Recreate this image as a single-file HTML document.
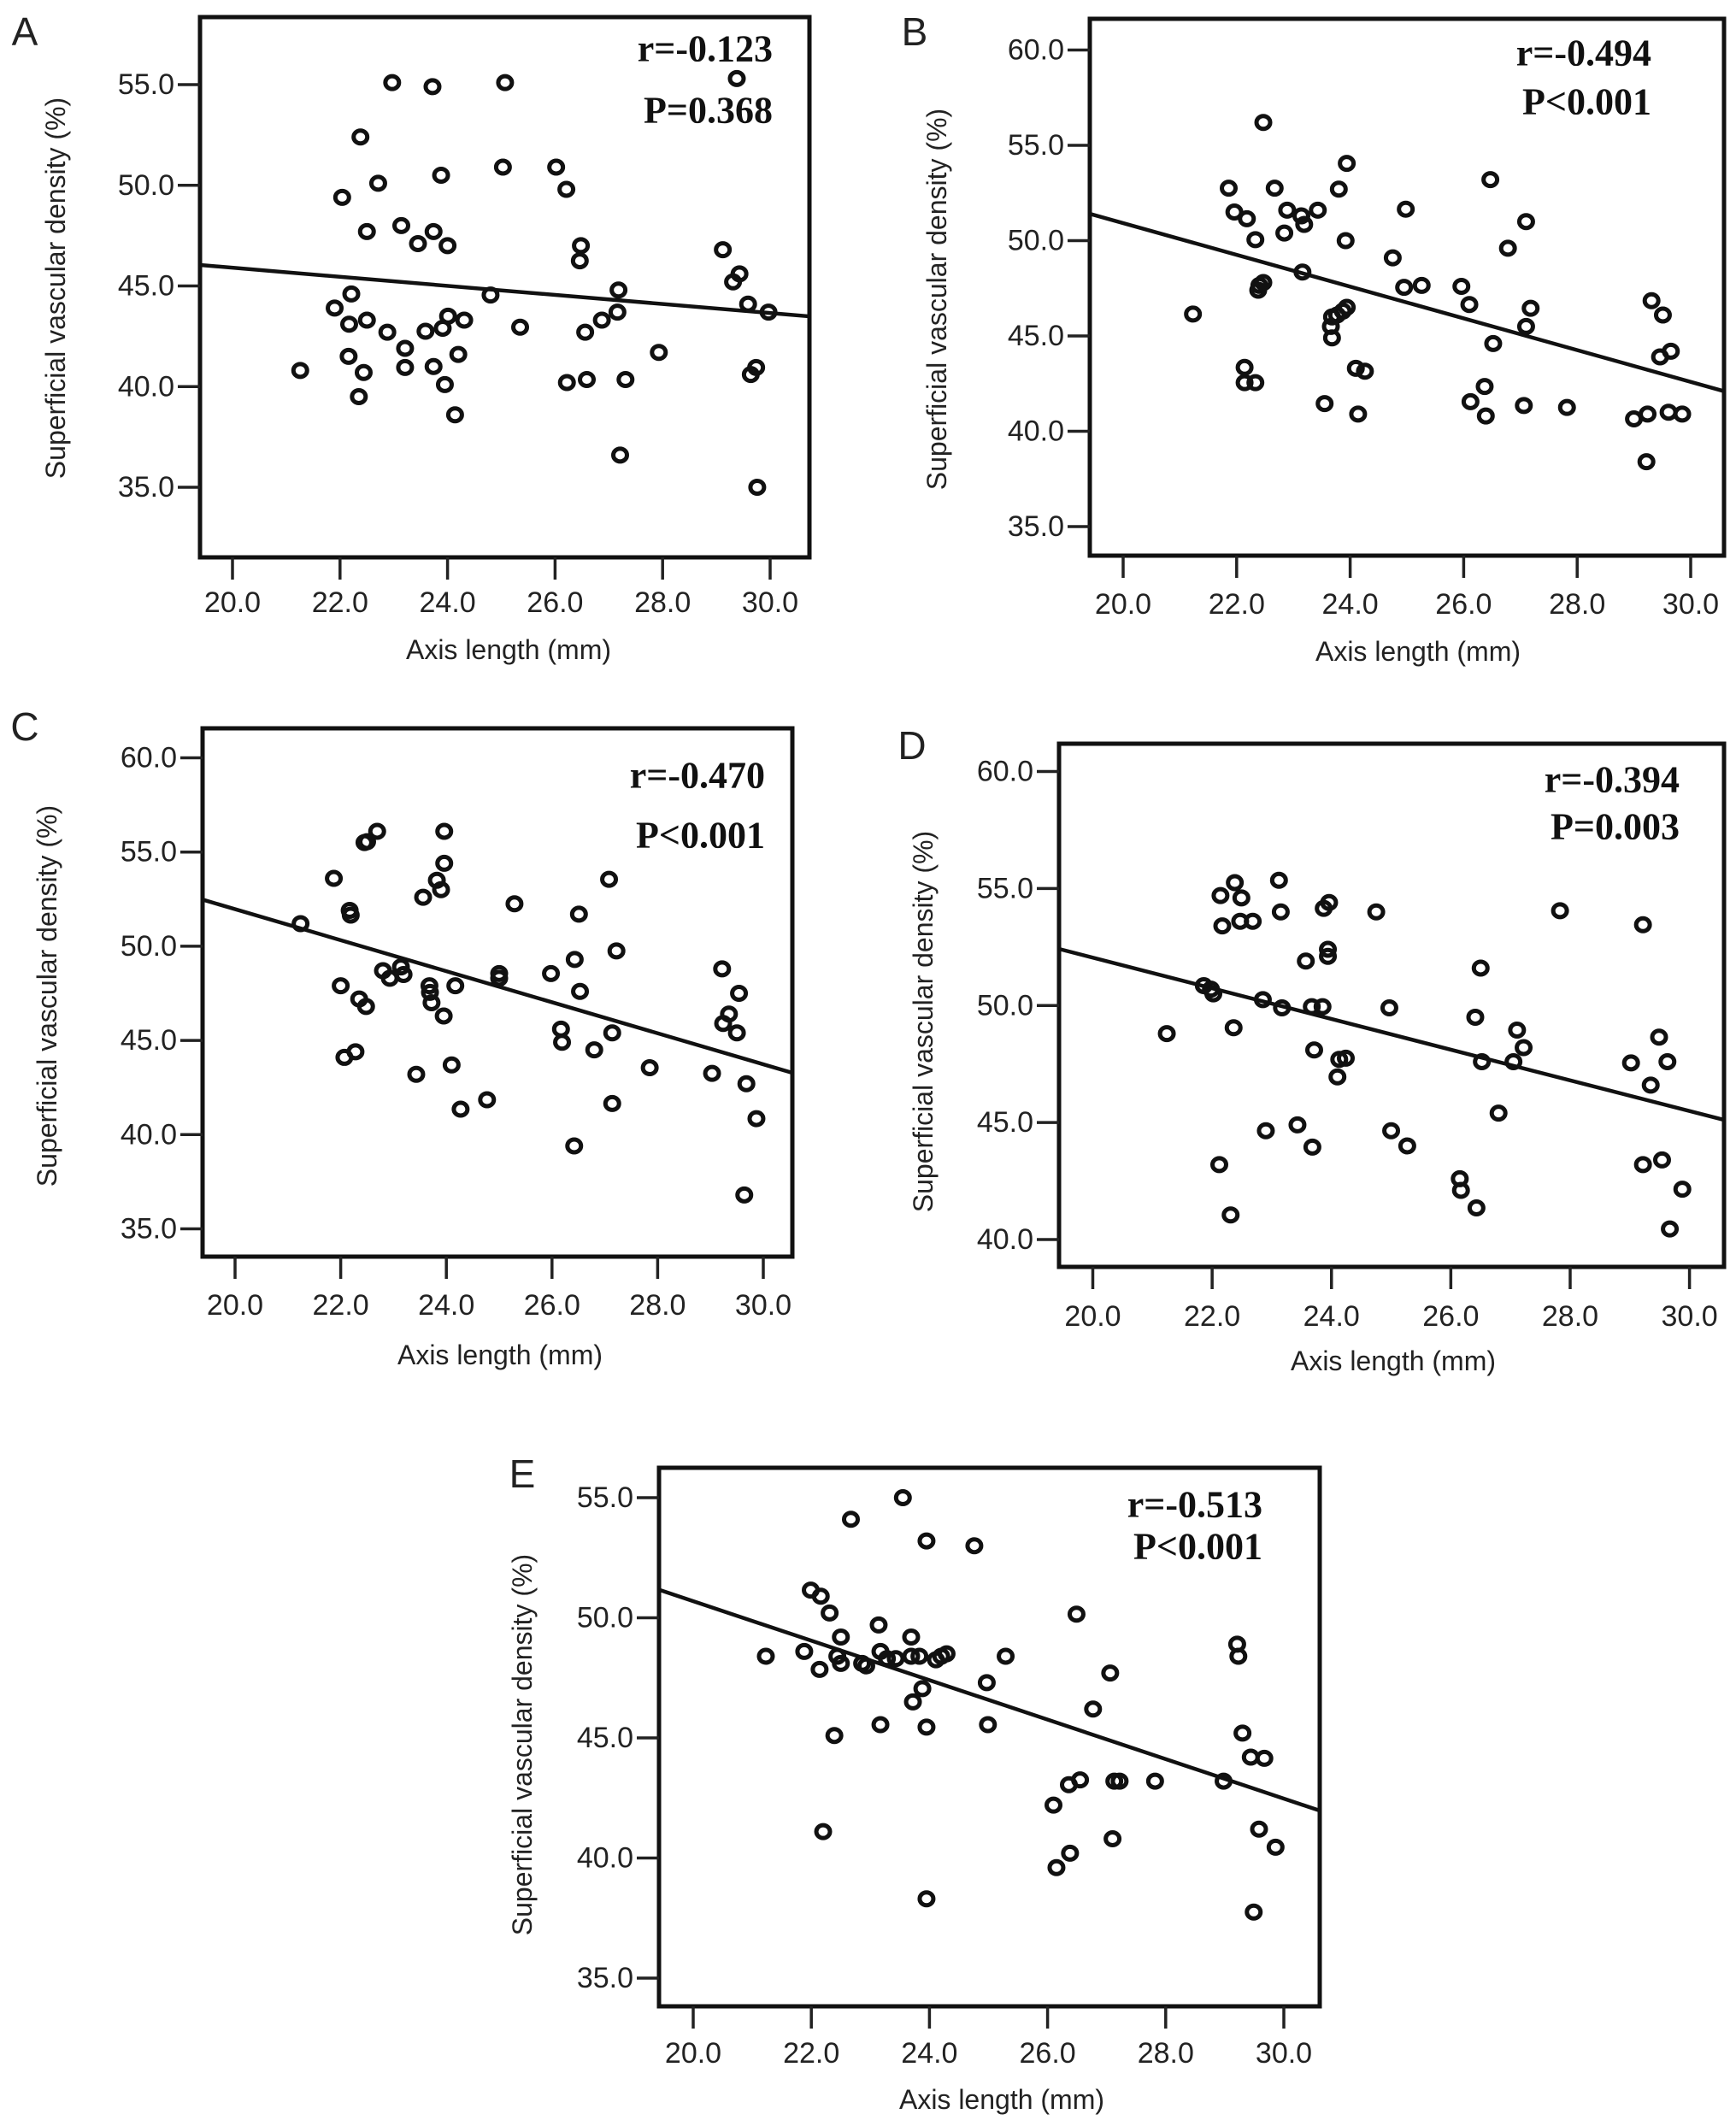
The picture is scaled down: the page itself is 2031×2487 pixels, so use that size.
<!DOCTYPE html>
<html><head><meta charset="utf-8">
<style>
html,body{margin:0;padding:0;background:#fff;}
svg{display:block;}
text{font-family:"Liberation Sans",sans-serif;fill:#222;}
.stat{font-family:"Liberation Serif",serif;font-weight:bold;fill:#111;}
</style></head>
<body>
<svg id="fig" width="2031" height="2487" viewBox="0 0 2031 2487" xmlns="http://www.w3.org/2000/svg"></svg>
<script>
// ---- data ----
const xTickLabels = ["20.0","22.0","24.0","26.0","28.0","30.0"];
const xTickValues = [20,22,24,26,28,30];
const yTicksA = [35,40,45,50,55];
const yTicksB = [35,40,45,50,55,60];
const yTicksC = [35,40,45,50,55,60];
const yTicksD = [40,45,50,55,60];
const yTicksE = [35,40,45,50,55];

const aX = [21.26,22.97,23.72,25.07,29.38,22.38,25.03,26.02,26.21,22.04,22.71,23.88,22.5,23.14,23.45,23.74,24.0,26.48,26.46,29.12,29.31,29.43,29.59,29.97,22.21,21.9,22.17,22.5,22.88,23.59,23.91,24.01,24.31,23.21,23.21,22.16,22.44,23.74,23.95,24.2,22.35,24.14,24.8,25.35,26.22,26.59,26.56,26.87,27.18,27.16,27.31,27.21,27.93,29.64,29.74,29.76];
const aY = [40.8,55.1,54.9,55.1,55.3,52.4,50.9,50.9,49.8,49.4,50.1,50.5,47.7,48.0,47.1,47.7,47.0,47.0,46.25,46.8,45.2,45.6,44.1,43.7,44.6,43.9,43.1,43.3,42.7,42.75,42.9,43.5,43.3,41.9,40.95,41.5,40.7,41.0,40.1,41.6,39.5,38.6,44.55,42.95,40.2,40.35,42.7,43.3,44.8,43.7,40.35,36.6,41.7,40.6,40.95,35.0];
const aLine = [19.4,46.04,30.73,43.49];

const bX = [21.23,22.47,21.86,21.96,22.18,22.33,22.67,22.89,22.84,23.14,23.19,23.43,23.8,23.94,23.92,23.16,22.4,22.47,22.38,23.68,23.77,23.87,23.94,23.66,23.68,24.75,24.98,24.95,25.26,25.96,26.1,26.47,26.52,26.78,27.1,27.18,27.1,22.14,22.14,22.33,23.55,24.1,24.26,24.14,26.12,26.37,26.39,27.06,27.82,29.0,29.24,29.22,29.31,29.51,29.46,29.65,29.61,29.85];
const bY = [46.15,56.2,52.75,51.5,51.15,50.05,52.75,51.6,50.4,51.3,50.85,51.6,52.7,54.05,50.0,48.35,47.65,47.8,47.4,46.0,46.1,46.3,46.5,45.5,44.9,49.1,51.65,47.55,47.65,47.6,46.65,53.2,44.6,49.6,51.0,46.45,45.5,43.35,42.55,42.55,41.45,43.3,43.15,40.9,41.55,42.35,40.8,41.35,41.25,40.65,40.9,38.4,46.85,46.1,43.9,44.2,41.0,40.9];
const bLine = [19.41,51.41,30.59,42.1];

const cX = [21.24,21.87,22.17,22.19,22.45,22.5,22.69,22.0,22.35,22.48,22.07,22.28,22.8,22.93,23.14,23.19,23.56,23.82,23.9,23.96,23.96,23.68,23.69,23.72,23.95,24.17,23.43,24.1,24.27,24.77,25.0,25.0,25.29,25.98,26.17,26.19,26.43,26.51,26.53,26.8,27.14,27.08,27.22,27.14,26.42,27.85,29.03,29.22,29.24,29.35,29.5,29.54,29.68,29.87,29.64];
const cY = [51.2,53.6,51.9,51.65,55.5,55.55,56.1,47.9,47.2,46.8,44.1,44.4,48.7,48.3,48.9,48.5,52.6,53.5,53.0,56.1,54.4,47.9,47.55,47.0,46.3,47.9,43.2,43.7,41.35,41.85,48.55,48.3,52.25,48.55,45.6,44.9,49.3,51.7,47.6,44.5,45.4,53.55,49.75,41.65,39.4,43.55,43.25,48.8,45.9,46.4,45.4,47.5,42.7,40.85,36.8];
const cLine = [19.39,52.47,30.55,43.28];

const dX = [21.24,21.86,21.98,22.02,22.14,22.17,22.38,22.49,22.47,22.68,22.36,22.12,22.31,22.85,22.9,23.12,23.15,23.17,23.57,23.67,23.85,23.71,23.43,23.68,23.87,23.96,23.94,23.94,24.13,24.24,24.1,24.75,24.97,25.0,25.27,26.15,26.17,26.43,26.41,26.5,26.52,26.8,27.05,27.11,27.22,27.83,29.02,29.22,29.35,29.22,29.49,29.54,29.63,29.67,29.88];
const dY = [48.8,50.85,50.7,50.5,54.7,53.4,55.25,54.6,53.6,53.6,49.05,43.2,41.05,50.25,44.65,55.35,54.0,49.9,51.9,49.95,49.95,48.1,44.9,43.95,54.15,54.4,52.4,52.1,47.7,47.75,46.95,54.0,49.9,44.65,44.0,42.6,42.1,41.35,49.5,51.6,47.6,45.4,47.6,48.95,48.2,54.05,47.55,53.45,46.6,43.2,48.65,43.4,47.6,40.45,42.15];
const dLine = [19.43,52.42,30.58,45.11];

const eX = [21.23,21.88,21.99,22.16,22.14,22.31,22.5,22.44,22.5,22.39,22.2,22.67,22.86,22.93,23.14,23.17,23.28,23.43,23.17,23.55,23.69,23.69,23.83,23.88,23.72,23.95,23.95,23.95,24.11,24.2,24.29,24.76,24.97,24.99,25.29,26.49,26.77,27.06,26.1,26.36,26.55,26.15,26.38,27.13,27.22,27.1,27.82,28.98,29.21,29.23,29.3,29.44,29.67,29.58,29.86,29.49];
const eY = [48.4,48.6,51.15,50.9,47.85,50.2,49.2,48.4,48.1,45.1,41.1,54.1,48.1,48.0,49.7,48.6,48.3,48.3,45.55,55.0,49.2,48.4,48.4,47.05,46.5,53.2,45.45,38.3,48.25,48.4,48.5,53.0,47.3,45.55,48.4,50.15,46.2,47.7,42.2,43.05,43.25,39.6,40.2,43.2,43.2,40.8,43.2,43.2,48.9,48.4,45.2,44.2,44.15,41.2,40.45,37.75];
const eLine = [19.43,51.16,30.6,41.98];

const statsR = ["r=-0.123","r=-0.494","r=-0.470","r=-0.394","r=-0.513"];
const statsP = ["P=0.368","P<0.001","P<0.001","P=0.003","P<0.001"];
const letters = ["A","B","C","D","E"];

// ---- layout (pixels) ----
const panels = [
 {id:"a", xs:aX, ys:aY, line:aLine, yt:yTicksA, fx0:234,fx1:947,fy0:20,fy1:652, x20:272,x30:901, yv0:35,yp0:570,yv1:55,yp1:99,
  letter:[29,37], stat:[904,57,129], xlab:[595,760], tickY:705, ylab:[65,337]},
 {id:"b", xs:bX, ys:bY, line:bLine, yt:yTicksB, fx0:1275,fx1:2017,fy0:22,fy1:650, x20:1314,x30:1978, yv0:35,yp0:616,yv1:60,yp1:58.5,
  letter:[1070,37], stat:[1932,62,119], xlab:[1659,762], tickY:707, ylab:[1096,350]},
 {id:"c", xs:cX, ys:cY, line:cLine, yt:yTicksC, fx0:237,fx1:927,fy0:852,fy1:1470, x20:275,x30:893, yv0:35,yp0:1437.5,yv1:60,yp1:886.5,
  letter:[29,850], stat:[895,907,977], xlab:[585,1585], tickY:1527, ylab:[55,1165]},
 {id:"d", xs:dX, ys:dY, line:dLine, yt:yTicksD, fx0:1239,fx1:2017,fy0:870,fy1:1482, x20:1278.5,x30:1976.6, yv0:40,yp0:1450,yv1:60,yp1:902.5,
  letter:[1067,872], stat:[1965,912,967], xlab:[1630,1592], tickY:1540, ylab:[1080,1195]},
 {id:"e", xs:eX, ys:eY, line:eLine, yt:yTicksE, fx0:771,fx1:1544,fy0:1717,fy1:2347, x20:811,x30:1502, yv0:35,yp0:2314,yv1:55,yp1:1752,
  letter:[611,1724], stat:[1477,1760,1809], xlab:[1172,2456], tickY:2402, ylab:[611,2041]}
];

const NS="http://www.w3.org/2000/svg";
const svg=document.getElementById("fig");
function mk(tag,attrs,parent){const e=document.createElementNS(NS,tag);for(const k in attrs)e.setAttribute(k,attrs[k]);(parent||svg).appendChild(e);return e;}

panels.forEach((p,i)=>{
  const g=mk("g",{});
  
  
  const sx=v=>p.x20+(v-20)*(p.x30-p.x20)/10;
  const sy=v=>p.yp0+(v-p.yv0)*(p.yp1-p.yp0)/(p.yv1-p.yv0);

  const L=mk("text",{x:p.letter[0],y:p.letter[1],"font-size":46,"text-anchor":"middle","dominant-baseline":"central"},g);
  L.textContent=letters[i];
  
  

  const fr=mk("rect",{x:p.fx0,y:p.fy0,width:p.fx1-p.fx0,height:p.fy1-p.fy0,fill:"none",stroke:"#111","stroke-width":5},g);
  
  

  xTickValues.forEach((v,k)=>{
    const x=sx(v);
    const t=mk("line",{x1:x,x2:x,y1:p.fy1,y2:p.fy1+26,stroke:"#222","stroke-width":3.5},g);
    
    
    const tl=mk("text",{x:x,y:p.tickY,"font-size":34,"text-anchor":"middle","dominant-baseline":"central"},g);
    tl.textContent=xTickLabels[k];
    
    
  });
  p.yt.forEach(v=>{
    const y=sy(v);
    const t=mk("line",{x1:p.fx0-26,x2:p.fx0,y1:y,y2:y,stroke:"#222","stroke-width":3.5},g);
    
    
    const tl=mk("text",{x:p.fx0-30,y:y,"font-size":34,"text-anchor":"end","dominant-baseline":"central"},g);
    tl.textContent=v.toFixed(1);
    
    
  });
  const xt=mk("text",{x:p.xlab[0],y:p.xlab[1],"font-size":32,"text-anchor":"middle","dominant-baseline":"central"},g);
  xt.textContent="Axis length (mm)";
  
  
  const yt=mk("text",{x:p.ylab[0],y:p.ylab[1],"font-size":32,"text-anchor":"middle","dominant-baseline":"central",transform:`rotate(-90 ${p.ylab[0]} ${p.ylab[1]})`},g);
  yt.textContent="Superficial vascular density (%)";
  
  

  const ln=mk("line",{x1:sx(p.line[0]),y1:sy(p.line[1]),x2:sx(p.line[2]),y2:sy(p.line[3]),stroke:"#111","stroke-width":4.5},g);
  
  

  p.xs.forEach((xv,k)=>{
    const c=mk("ellipse",{cx:sx(xv),cy:sy(p.ys[k]),rx:8,ry:7.5,fill:"none",stroke:"#111","stroke-width":5},g);
    
    
  });

  const r=mk("text",{x:p.stat[0],y:p.stat[1],"font-size":44,"text-anchor":"end","dominant-baseline":"central",class:"stat"},g);
  r.textContent=statsR[i];
  
  
  const pp=mk("text",{x:p.stat[0],y:p.stat[2],"font-size":44,"text-anchor":"end","dominant-baseline":"central",class:"stat"},g);
  pp.textContent=statsP[i];
  
  
});
</script>
</body></html>
